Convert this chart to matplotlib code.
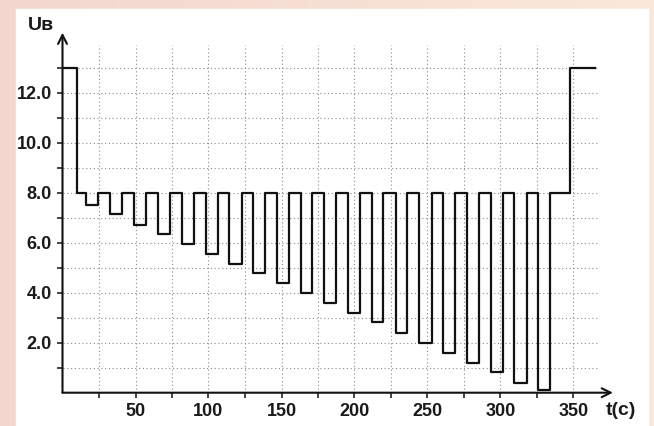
import matplotlib
matplotlib.use('Agg')
import matplotlib.pyplot as plt
import numpy as np
from matplotlib.patches import Rectangle

plt.rcParams['font.family'] = ['Liberation Sans', 'DejaVu Sans']

# data
u_start = 13.0           # initial level, V
t_drop = 10.1            # drop to base level
u_base = 8.0
pulse_start = [16.1, 32.5, 49.0, 65.2, 81.6, 98.1, 114.2, 130.7, 146.7, 163.2,
               179.3, 195.8, 212.2, 228.2, 244.2, 260.4, 276.8, 293.3, 309.5, 325.9]
pulse_end = [24.5, 41.0, 57.2, 73.6, 90.1, 106.3, 122.7, 138.7, 155.1, 171.1,
             187.5, 203.8, 219.7, 236.2, 252.9, 268.8, 285.3, 301.5, 317.9, 333.9]
pulse_low = [7.5, 7.15, 6.7, 6.35, 5.94, 5.53, 5.14, 4.78, 4.37, 3.98,
             3.6, 3.18, 2.82, 2.38, 1.99, 1.6, 1.2, 0.83, 0.4, 0.1]
t_rise = 347.6
u_end = 13.0
t_stop = 364.7

x_ticks = list(range(25, 375, 25))
y_ticks = list(range(1, 14))

# build the step curve
t = [0, t_drop]
u = [u_start, u_base]
for a, b, lo in zip(pulse_start, pulse_end, pulse_low):
    t += [a, b]
    u += [lo, u_base]
t += [t_rise, t_stop]
u += [u_end, u_end]

W, H = 654, 426
fig = plt.figure(figsize=(W / 100, H / 100), dpi=100)

# pink gradient frame with white panel
bg = fig.add_axes([0, 0, 1, 1])
bg.axis('off')
g = np.linspace(0, 1, 256)[None, :, None]
c_left = np.array([243, 215, 207]) / 255
c_right = np.array([250, 232, 217]) / 255
bg.imshow(c_left * (1 - g) + c_right * g, aspect='auto', extent=[0, 1, 0, 1])
bg.add_patch(Rectangle((16 / W, 0), (648 - 16) / W, (H - 9) / H,
                       color='white', transform=bg.transAxes))
bg.set_xlim(0, 1)
bg.set_ylim(0, 1)

x0px, y0px, sx, sy = 62.5, 392.7, 1.46, 25.0
xmax, ymax = 380, 14.6
ax = fig.add_axes([x0px / W, (H - y0px) / H, xmax * sx / W, ymax * sy / H])
ax.set_xlim(0, xmax)
ax.set_ylim(0, ymax)
ax.patch.set_alpha(0)
for s in ax.spines.values():
    s.set_visible(False)

dot = (0, (1, 2.4))
ax.hlines(y_ticks, 0, 367, colors='#8a8a8a', lw=0.8, linestyles=dot, zorder=1)
ax.vlines(x_ticks, 0, 13.9, colors='#8a8a8a', lw=0.8, linestyles=dot, zorder=1)

ax.plot(t, u, drawstyle='steps-post', color='#111111', lw=1.6, zorder=3)

arrow = dict(arrowstyle='->', lw=1.5, color='#111111', mutation_scale=16,
             shrinkA=0, shrinkB=0)
ax.annotate('', xy=(0, 14.4), xytext=(0, 0), arrowprops=arrow, annotation_clip=False)
ax.annotate('', xy=(377, 0), xytext=(0, 0), arrowprops=arrow, annotation_clip=False)

ax.set_xticks(x_ticks)
ax.set_xticklabels([str(v) if v % 50 == 0 else '' for v in x_ticks],
                   fontweight='bold', fontsize=13)
ax.set_yticks(y_ticks)
ax.set_yticklabels([f'{v:.1f}' if v % 2 == 0 and v <= 12 else '' for v in y_ticks],
                   fontweight='bold', fontsize=13)
ax.tick_params(axis='x', direction='out', length=3.5, width=1.1, pad=4,
               color='#111111', labelcolor='#1a1a1a')
ax.tick_params(axis='y', direction='out', length=4.5, width=1.1, pad=3,
               color='#111111', labelcolor='#1a1a1a')

ax.text(-6, 14.67, 'Uв', ha='right', va='center', fontsize=14,
        fontweight='bold', color='#1a1a1a', clip_on=False)
ax.text(372, -0.72, 't(с)', ha='left', va='center', fontsize=14,
        fontweight='bold', color='#1a1a1a', clip_on=False)

fig.savefig('out.png', dpi=100)
